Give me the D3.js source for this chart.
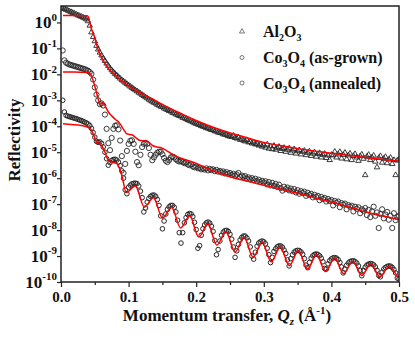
<!DOCTYPE html>
<html>
<head>
<meta charset="utf-8">
<script src="https://cdn.jsdelivr.net/npm/d3@7"></script>
<style>
body{margin:0;background:#fff}
text{font-family:"Liberation Serif","Times New Roman",serif;font-weight:bold;fill:#111}
</style>
</head>
<body>
<svg id="chart" width="415" height="339"></svg>
<script>
// measured reflectivity, log10(R), Q = i*qStep
const qStep = 0.0025

const alLog = [
0.58,0.55,0.52,0.49,0.46,0.43,0.40,0.37,0.34,0.31,
0.28,0.25,0.22,0.19,0.16,0.12,0.05,-0.12,-0.38,-0.56,
-0.72,-0.90,-1.04,-1.16,-1.27,-1.38,-1.48,-1.58,-1.67,-1.76,
-1.84,-1.91,-1.98,-2.04,-2.10,-2.16,-2.22,-2.27,-2.32,-2.37,
-2.42,-2.47,-2.52,-2.56,-2.61,-2.65,-2.70,-2.74,-2.79,-2.83,
-2.88,-2.92,-2.97,-3.01,-3.05,-3.09,-3.12,-3.17,-3.20,-3.24,
-3.26,-3.31,-3.34,-3.37,-3.41,-3.43,-3.48,-3.50,-3.54,-3.57,
-3.60,-3.62,-3.67,-3.69,-3.72,-3.76,-3.78,-3.81,-3.84,-3.88,
-3.90,-3.93,-3.95,-3.99,-4.01,-4.03,-4.07,-4.08,-4.11,-4.14,
-4.15,-4.19,-4.20,-4.24,-4.25,-4.27,-4.31,-4.32,-4.34,-4.38,
-4.39,-4.41,-4.36,-4.45,-4.47,-4.43,-4.52,-4.50,-4.55,-4.58,
-4.53,-4.62,-4.60,-4.66,-4.63,-4.70,-4.68,-4.74,-4.71,-4.78,
-4.74,-4.82,-4.70,-4.86,-4.77,-4.88,-4.75,-4.90,-4.84,-4.79,
-4.95,-4.87,-4.83,-4.98,-4.90,-4.85,-5.02,-4.93,-4.88,-5.05,
-4.96,-4.92,-5.08,-4.98,-4.94,-5.11,-5.02,-4.97,-5.14,-5.05,
-5.00,-5.17,-5.07,-5.03,-5.20,-5.10,-5.06,-5.22,-5.12,-5.30,
-5.10,-5.12,-4.98,-5.20,-5.08,-4.99,-5.24,-5.10,-5.02,-5.27,
-5.12,-5.05,-5.30,-5.14,-5.07,-5.20,-5.33,-5.15,-5.09,-5.25,
-5.88,-5.17,-5.10,-5.30,-5.20,-5.13,-5.36,-5.58,-5.22,-5.15,
-5.40,-5.25,-5.18,-5.42,-5.28,-5.21,-5.45,-5.30,-5.88,-5.32,
-5.27]

const asGrownLog = [
null,-1.08,-1.46,-1.55,-1.59,-1.62,-1.64,-1.66,-1.68,-1.70,
-1.72,-1.74,-1.76,-1.78,-1.80,-1.83,-1.86,-1.91,-1.98,-2.20,
-2.50,-2.78,-3.00,-3.15,-3.12,-3.20,-3.55,-4.10,-4.65,-4.92,
-4.45,-4.10,-3.98,-3.96,-4.12,-4.55,-5.15,-5.80,-5.45,-4.95,
-4.68,-4.56,-4.54,-4.68,-4.98,-5.38,-5.50,-5.10,-4.80,-4.68,
-4.64,-4.67,-4.84,-5.10,-5.31,-5.20,-5.10,-5.02,-4.98,-4.98,
-5.08,-5.22,-5.33,-5.38,-5.30,-5.20,-5.17,-5.20,-5.27,-5.33,
-5.36,-5.34,-5.38,-5.42,-5.40,-5.47,-5.50,-5.47,-5.55,-5.58,
-5.56,-5.62,-5.60,-5.66,-5.63,-5.67,-5.62,-5.70,-5.64,-5.69,
-5.66,-5.73,-5.68,-5.75,-5.72,-5.78,-5.74,-5.82,-5.77,-5.84,
-5.80,-5.88,-5.83,-5.90,-5.86,-5.80,-5.95,-5.90,-5.96,-5.92,
-6.02,-5.97,-6.05,-6.00,-6.08,-6.02,-6.12,-6.06,-6.15,-6.10,
-6.17,-6.12,-6.24,-6.15,-6.28,-6.18,-6.30,-6.22,-6.34,-6.25,
-6.38,-6.48,-6.33,-6.42,-6.36,-6.47,-6.40,-6.50,-6.42,-6.55,
-6.46,-6.60,-6.50,-6.57,-6.52,-6.68,-6.56,-6.65,-6.60,-6.74,
-6.64,-6.72,-6.68,-6.85,-6.72,-6.80,-6.76,-6.90,-6.80,-6.88,
-6.84,-7.05,-6.88,-6.95,-6.90,-7.12,-6.96,-7.02,-6.98,-7.20,
-7.04,-7.10,-7.06,-7.28,-7.10,-7.18,-7.12,-7.35,-7.20,-7.25,
-7.15,-7.42,-7.22,-7.50,-7.28,-7.10,-7.45,-7.32,-7.92,-7.38,
-7.20,-7.55,-7.40,-7.30,-7.60,-7.45,-7.92,-7.35,-7.62,-7.50,
-7.45]

const annealedLog = [
null,-3.00,-3.45,-3.58,-3.61,-3.63,-3.65,-3.67,-3.69,-3.71,
-3.73,-3.76,-3.78,-3.81,-3.84,-3.87,-3.91,-3.97,-4.08,-4.24,
-4.42,-4.58,-4.62,-4.60,-4.66,-4.80,-5.00,-5.25,-5.50,-5.40,
-5.32,-5.28,-5.27,-5.30,-5.38,-5.52,-5.72,-6.00,-6.45,-6.60,
-6.35,-6.27,-6.22,-6.20,-6.19,-6.21,-6.30,-6.50,-6.75,-7.30,
-7.15,-6.92,-6.78,-6.70,-6.66,-6.65,-6.70,-6.82,-7.05,-7.45,
-7.95,-7.65,-7.38,-7.20,-7.10,-7.05,-7.05,-7.12,-7.30,-7.62,
-8.10,-8.50,-8.10,-7.72,-7.52,-7.40,-7.36,-7.38,-7.48,-7.70,
-7.98,-8.70,-8.60,-8.20,-7.95,-7.80,-7.72,-7.69,-7.73,-7.85,
-8.05,-8.40,-8.95,-8.75,-8.42,-8.20,-8.08,-8.02,-8.01,-8.05,
-8.16,-8.35,-8.65,-9.05,-8.80,-8.55,-8.38,-8.28,-8.23,-8.23,
-8.30,-8.42,-8.65,-9.00,-9.12,-8.85,-8.62,-8.50,-8.45,-8.42,
-8.45,-8.53,-8.70,-8.95,-9.25,-9.05,-8.82,-8.72,-8.64,-8.61,
-8.61,-8.66,-8.77,-8.90,-9.15,-9.38,-9.10,-8.95,-8.85,-8.80,
-8.78,-8.79,-8.84,-8.93,-9.10,-9.35,-9.45,-9.25,-9.08,-8.99,
-8.94,-8.92,-8.94,-8.99,-9.08,-9.22,-9.48,-9.50,-9.30,-9.18,
-9.11,-9.07,-9.06,-9.08,-9.14,-9.25,-9.42,-9.65,-9.50,-9.36,
-9.27,-9.21,-9.19,-9.18,-9.21,-9.27,-9.38,-9.55,-9.76,-9.55,
-9.43,-9.35,-9.31,-9.29,-9.30,-9.34,-9.42,-9.55,-9.75,-9.80,
-9.62,-9.50,-9.44,-9.40,-9.38,-9.39,-9.44,-9.52,-9.65,-9.85,
-9.88]

// fitted curves, [Q, log10(R)]
const alFit = [[0.003,0.27],[0.02,0.27],[0.039,0.26],[0.041,0.18],[0.043,-0.05],[0.045,-0.25],
[0.048,-0.44],[0.051,-0.7],[0.055,-1.06],[0.06,-1.34],[0.065,-1.58],[0.07,-1.76],[0.0775,-1.97],
[0.085,-2.14],[0.095,-2.36],[0.105,-2.53],[0.115,-2.69],[0.125,-2.83],[0.134,-2.93],[0.145,-3.09],
[0.16,-3.29],[0.17,-3.42],[0.18,-3.54],[0.19,-3.66],[0.2,-3.78],[0.22,-3.99],[0.24,-4.17],
[0.26,-4.33],[0.28,-4.48],[0.3,-4.62],[0.33,-4.77],[0.36,-4.9],[0.4,-5.04],[0.45,-5.2],[0.5,-5.35]]

const asGrownFit = [[0.003,-1.91],[0.02,-1.91],[0.038,-1.93],[0.043,-1.97],[0.047,-2.2],[0.051,-2.55],
[0.055,-2.95],[0.058,-3.15],[0.062,-3.08],[0.066,-3.25],[0.07,-3.45],[0.075,-3.6],[0.081,-3.75],
[0.086,-3.85],[0.092,-4.1],[0.098,-4.3],[0.105,-4.33],[0.111,-4.45],[0.117,-4.55],[0.124,-4.56],
[0.13,-4.62],[0.136,-4.75],[0.142,-4.8],[0.148,-4.83],[0.155,-4.92],[0.166,-5.1],[0.18,-5.25],
[0.19,-5.34],[0.2,-5.43],[0.21,-5.55],[0.22,-5.67],[0.24,-5.86],[0.26,-6.02],[0.28,-6.14],
[0.3,-6.27],[0.32,-6.39],[0.34,-6.52],[0.36,-6.65],[0.38,-6.79],[0.4,-6.92],[0.42,-7.07],
[0.44,-7.22],[0.46,-7.36],[0.48,-7.48],[0.5,-7.6]]

const annealedFit = [[0.003,-3.9],[0.015,-3.93],[0.03,-3.97],[0.04,-4.04],[0.045,-4.15],[0.049,-4.38],
[0.053,-4.62],[0.0564,-4.66],[0.06,-4.74],[0.065,-5.0],[0.0698,-5.3],[0.075,-5.38],[0.0832,-5.45],
[0.09,-5.9],[0.0966,-6.55],[0.11,-6.3],[0.1234,-7.12],[0.1368,-6.75],[0.1502,-7.54],[0.1636,-7.12],
[0.177,-7.92],[0.1904,-7.45],[0.2038,-8.27],[0.2172,-7.76],[0.2306,-8.58],[0.244,-8.05],
[0.2574,-8.85],[0.2708,-8.28],[0.2842,-9.05],[0.2976,-8.48],[0.311,-9.22],[0.3244,-8.65],
[0.3378,-9.37],[0.3512,-8.8],[0.3646,-9.5],[0.378,-8.95],[0.3914,-9.6],[0.4048,-9.08],
[0.4182,-9.68],[0.4316,-9.2],[0.445,-9.75],[0.4584,-9.3],[0.4718,-9.8],[0.4852,-9.4],[0.4986,-9.85]]

const xTicks = [0, 0.1, 0.2, 0.3, 0.4, 0.5]
const xMinorTicks = [0.05, 0.15, 0.25, 0.35, 0.45]
const yTickExps = [0, -1, -2, -3, -4, -5, -6, -7, -8, -9, -10]
const legendNames = [["Al", "2", "O", "3", ""], ["Co", "3", "O", "4", " (as-grown)"], ["Co", "3", "O", "4", " (annealed)"]]

const svg = d3.select("#chart")
const pLeft = 61, pRight = 399, pTop = 6, pBottom = 282

const x = d3.scaleLinear().domain([0, 0.5]).range([pLeft, pRight])
const y = d3.scaleLog().domain([1e-10, 4.3]).range([pBottom, pTop])

svg.append("clipPath").attr("id", "plotclip")
  .append("rect").attr("x", pLeft).attr("y", pTop).attr("width", pRight - pLeft).attr("height", pBottom - pTop)

function toPoints(arr){
  return arr.map((v, i) => ({q: i * qStep, v: v})).filter(d => d.v != null)
}

const plot = svg.append("g").attr("clip-path", "url(#plotclip)")
const mk = "#262626"

// data markers
plot.append("g").selectAll("path").data(toPoints(alLog)).join("path")
  .attr("d", d3.symbol().type(d3.symbolTriangle).size(13))
  .attr("transform", d => `translate(${x(d.q)},${y(Math.pow(10, d.v))})`)
  .attr("fill", "none").attr("stroke", mk).attr("stroke-width", 0.9)

plot.append("g").selectAll("circle").data(toPoints(asGrownLog)).join("circle")
  .attr("cx", d => x(d.q)).attr("cy", d => y(Math.pow(10, d.v))).attr("r", 2.6)
  .attr("fill", "none").attr("stroke", mk).attr("stroke-width", 0.9)

plot.append("g").selectAll("circle").data(toPoints(annealedLog)).join("circle")
  .attr("cx", d => x(d.q)).attr("cy", d => y(Math.pow(10, d.v))).attr("r", 2.3)
  .attr("fill", "none").attr("stroke", mk).attr("stroke-width", 1)

// fits
const fitLine = d3.line().x(d => x(d[0])).y(d => y(Math.pow(10, d[1]))).curve(d3.curveMonotoneX)
;[alFit, asGrownFit, annealedFit].forEach(f => {
  plot.append("path").attr("d", fitLine(f))
    .attr("fill", "none").attr("stroke", "#ff0000").attr("stroke-width", 1.5)
})

// axes
const xAxis = svg.append("g").attr("transform", `translate(0,${pBottom})`)
  .call(d3.axisBottom(x).tickValues(xTicks).tickFormat(d3.format(".1f")).tickSizeInner(5).tickSizeOuter(0))
xAxis.select(".domain").remove()
xAxis.selectAll("line").attr("stroke", "#222").attr("stroke-width", 1.2)
xAxis.selectAll("text").attr("y", 9).attr("font-size", 15).attr("fill", "#111")

const xMinor = svg.append("g").attr("transform", `translate(0,${pBottom})`)
  .call(d3.axisBottom(x).tickValues(xMinorTicks).tickFormat("").tickSizeInner(3).tickSizeOuter(0))
xMinor.select(".domain").remove()
xMinor.selectAll("line").attr("stroke", "#222").attr("stroke-width", 1.2)

const yAxis = svg.append("g").attr("transform", `translate(${pLeft},0)`)
  .call(d3.axisLeft(y).tickValues(yTickExps.map(e => Math.pow(10, e))).tickFormat("").tickSizeInner(4).tickSizeOuter(0))
yAxis.select(".domain").remove()
yAxis.selectAll("line").attr("stroke", "#222").attr("stroke-width", 1.2)

yTickExps.forEach(e => {
  const t = svg.append("text").attr("x", pLeft - 4).attr("y", y(Math.pow(10, e))).attr("dy", "0.35em")
    .attr("text-anchor", "end").attr("font-size", 17)
  t.append("tspan").text("10")
  t.append("tspan").attr("font-size", 11).attr("dy", -7.5).text(e)
})

// frame
svg.append("rect").attr("x", pLeft).attr("y", pTop).attr("width", pRight - pLeft).attr("height", pBottom - pTop)
  .attr("fill", "none").attr("stroke", "#222").attr("stroke-width", 1.5)

// axis titles
svg.append("text").attr("transform", "translate(20,140) rotate(-90)")
  .attr("text-anchor", "middle").attr("font-size", 17).text("Reflectivity")

const xt = svg.append("text").attr("x", 227).attr("y", 321).attr("text-anchor", "middle").attr("font-size", 17)
xt.append("tspan").text("Momentum transfer, ")
xt.append("tspan").attr("font-style", "italic").text("Q")
xt.append("tspan").attr("font-style", "italic").attr("font-size", 11).attr("dy", 4).text("z")
xt.append("tspan").attr("dy", -4).text(" (Å")
xt.append("tspan").attr("font-size", 11).attr("dy", -7).text("-1")
xt.append("tspan").attr("dy", 7).text(")")

// legend
const legY = [31.5, 57.5, 83]
const lg = svg.append("g")
lg.append("path").attr("d", d3.symbol().type(d3.symbolTriangle).size(11)())
  .attr("transform", `translate(242,${legY[0]})`).attr("fill", "none").attr("stroke", "#555").attr("stroke-width", 0.8)
lg.append("circle").attr("cx", 242).attr("cy", legY[1]).attr("r", 2).attr("fill", "none").attr("stroke", "#555").attr("stroke-width", 0.8)
lg.append("circle").attr("cx", 242).attr("cy", legY[2]).attr("r", 2).attr("fill", "none").attr("stroke", "#555").attr("stroke-width", 0.8)

legendNames.forEach((n, i) => {
  const t = lg.append("text").attr("x", 263).attr("y", legY[i] + 5.5).attr("font-size", 16)
  t.append("tspan").text(n[0])
  t.append("tspan").attr("font-size", 10).attr("dy", 4).text(n[1])
  t.append("tspan").attr("dy", -4).text(n[2])
  t.append("tspan").attr("font-size", 10).attr("dy", 4).text(n[3])
  t.append("tspan").attr("dy", -4).text(n[4])
})
</script>
</body>
</html>
